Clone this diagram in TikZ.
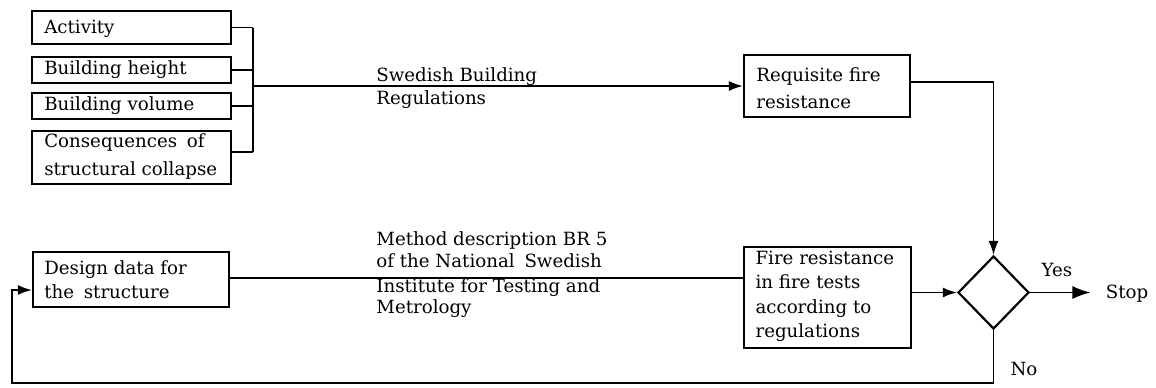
\documentclass[tikz,border=0pt]{standalone}
\usepackage{fontspec}
\setmainfont{DejaVu Serif}
\usetikzlibrary{arrows.meta,shapes.geometric}
\tikzset{
  box/.style={draw, line width=1.1pt, inner sep=0pt},
  txt/.style={anchor=west, align=left, inner sep=0pt, font=\fontsize{9.1}{12.5}\selectfont},
  lbl/.style={inner sep=0pt, font=\fontsize{9.1}{11}\selectfont},
  lineT/.style={anchor=base west, inner sep=0pt, font=\fontsize{9.1}{11}\selectfont},
  conn/.style={line width=0.8pt},
  arr/.style={conn, -{Latex[length=7pt,width=5pt]}},
  bigarr/.style={conn, -{Latex[length=9pt,width=6.5pt]}},
}
\begin{document}
\begin{tikzpicture}[x=0.5pt,y=-0.5pt]
\useasboundingbox (0,0) rectangle (1156,387);

% left input boxes
\node[box, minimum width=99.5pt, minimum height=16.5pt] (act) at (131.5,27.5) {};
\node[txt] (actT) at ([xshift=6.5pt,yshift=-0.75pt]act.west) {Activity};
\node[box, minimum width=99.5pt, minimum height=13pt] (hgt) at (131.5,70) {};
\node[txt] (hgtT) at ([xshift=6.5pt]hgt.west) {Building height};
\node[box, minimum width=99.5pt, minimum height=13pt] (vol) at (131.5,106) {};
\node[txt] (volT) at ([xshift=6.5pt]vol.west) {Building volume};
\node[box, minimum width=99.5pt, minimum height=26.5pt] (con) at (131.5,157.5) {};
\node[txt, font=\fontsize{9.1}{14}\selectfont] (conT) at ([xshift=6.5pt,yshift=0.75pt]con.west) {Consequences\hspace{2pt} of\\structural collapse};

% requisite fire resistance
\node[box, minimum width=83pt, minimum height=31pt] (req) at (827,86) {};
\node[txt, font=\fontsize{9.1}{13.5}\selectfont] (reqT) at ([xshift=6.5pt,yshift=-1.25pt]req.west) {Requisite fire\\resistance};

% design data
\node[box, minimum width=98pt, minimum height=27.5pt] (des) at (131,279.5) {};
\node[txt, font=\fontsize{9.1}{12}\selectfont] (desT) at ([xshift=6pt]des.west) {Design data for\\the\hspace{2pt} structure};

% fire resistance in fire tests
\node[box, minimum width=83.5pt, minimum height=50.5pt] (fir) at (827.25,297.5) {};
\node[txt, font=\fontsize{9.1}{12.25}\selectfont] (firT) at ([xshift=6.25pt,yshift=0.5pt]fir.west) {Fire resistance\\in fire tests\\according to\\regulations};

% decision diamond
\node[diamond, draw, line width=1.1pt, inner sep=0pt, minimum width=35.5pt, minimum height=36.5pt] (dia) at (993.5,292.5) {};

% labels along the connectors
\node[lineT] (sw1) at (376,81) {Swedish Building};
\node[lineT] (sw2) at (376,104) {Regulations};
\node[lineT] (md1) at (376,245) {Method description BR 5};
\node[lineT] (md2) at (376,267) {of the National\hspace{2pt} Swedish};
\node[lineT] (md3) at (376,292) {Institute for Testing and};
\node[lineT] (md4) at (376,313) {Metrology};
\node[lbl] (yes) at (1057,270) {Yes};
\node[lbl] (no) at (1024,369) {No};
\node[lbl, inner xsep=7.5pt] (stop) at (1127,294) {Stop};

% bracket joining the inputs
\coordinate (bx) at (253,86);
\draw[conn] (act.east) -- (act.east -| bx);
\draw[conn] (hgt.east) -- (hgt.east -| bx);
\draw[conn] (vol.east) -- (vol.east -| bx);
\draw[conn] ([yshift=2.75pt]con.east) -- ([yshift=2.75pt]con.east -| bx);
\draw[conn] (act.east -| bx) -- ([yshift=2.75pt]con.east -| bx);
\draw[arr] (bx) -- (req.west);

% to the decision
\draw[arr] ([yshift=2pt]req.east) -| (dia.north);
\draw[conn] ([yshift=0.75pt]des.east) -- ([yshift=0.75pt]des.east -| fir.west);
\draw[arr] (dia.west -| fir.east) -- (dia.west);
\draw[bigarr] (dia.east) -- (dia.east -| stop.west);

% feedback loop
\coordinate (fb) at (12,383);
\draw[arr] (dia.south) |- (fb) |- ([yshift=-5.25pt]des.west);
\end{tikzpicture}
\end{document}
